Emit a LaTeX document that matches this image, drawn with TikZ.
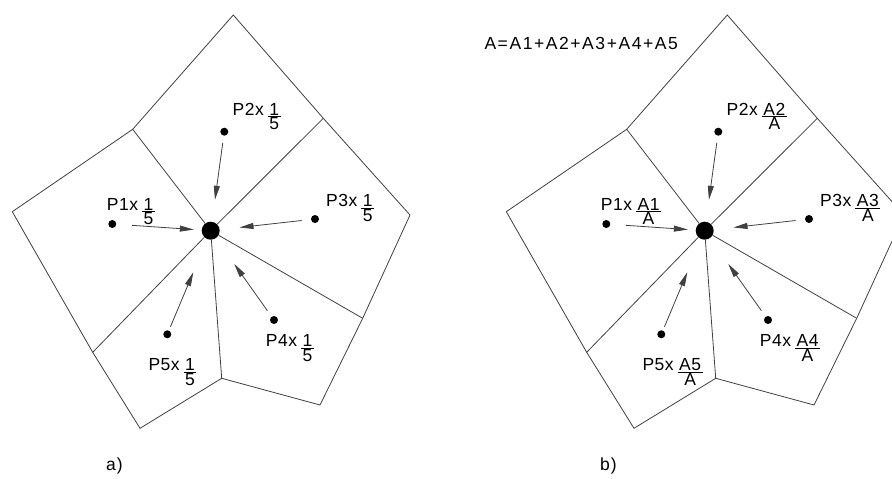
\documentclass[tikz,border=0pt]{standalone}
\usepackage{fontspec}
\setmainfont[LetterSpace=3]{Liberation Sans}
\usetikzlibrary{arrows.meta}

% stacked fraction, numerator sits on the baseline
\newcommand{\frc}[2]{\kern4pt\vtop{\offinterlineskip\halign{\hfil\kern1.5pt##\kern1.5pt\hfil\cr#1\cr\noalign{\kern1pt\hrule height0.6pt\kern1.2pt}#2\cr}}}

\begin{document}
\begin{tikzpicture}[x=1pt,y=-1pt,font=\fontsize{17.5}{20}\selectfont,
  edge/.style={line width=0.8pt,black!75},
  dot/.style={circle,fill=black,inner sep=0pt,minimum size=8pt},
  hub/.style={circle,fill=black,inner sep=0pt,minimum size=18pt},
  push/.style={line width=0.8pt,black!75,-{Triangle[length=14pt,width=6pt]}},
  lbl/.style={anchor=base west,inner sep=0pt}]
\useasboundingbox (0,0) rectangle (892,479);
\clip (0,0) rectangle (892,479);

% --- the two subdivided pentagons ---
\foreach \f/\dx in {a/0,b/494}{
\begin{scope}[xshift=\dx pt]
  \coordinate (\f-t)   at (233.3,15);
  \coordinate (\f-mur) at (323.3,118.3);
  \coordinate (\f-r)   at (410,215);
  \coordinate (\f-mlr) at (362.7,318.3);
  \coordinate (\f-br)  at (320,405);
  \coordinate (\f-mb)  at (221.7,378.3);
  \coordinate (\f-bl)  at (140,428.3);
  \coordinate (\f-mll) at (92.7,352.3);
  \coordinate (\f-l)   at (12.3,211.7);
  \coordinate (\f-mul) at (132.7,129.3);
  \draw[edge] (\f-t) -- (\f-mur) -- (\f-r) -- (\f-mlr) -- (\f-br) -- (\f-mb)
    -- (\f-bl) -- (\f-mll) -- (\f-l) -- (\f-mul) -- cycle;

  \node[hub] (\f-c) at (210.7,230.7) {};
  \foreach \m in {mul,mur,mlr,mb,mll}
    \draw[edge] (\f-c) -- (\f-\m);

  % centroids of the five parts
  \node[dot] (\f-p1) at (112.3,224) {};
  \node[dot] (\f-p2) at (224.3,131.7) {};
  \node[dot] (\f-p3) at (315,219) {};
  \node[dot] (\f-p4) at (274,320) {};
  \node[dot] (\f-p5) at (167.3,334.3) {};

  \draw[push,shorten <=15.5pt,shorten >=7.7pt] (\f-p1) -- (\f-c);
  \draw[push,shorten <=7pt,shorten >=22pt] (\f-p2) -- (\f-c);
  \draw[push,shorten <=9.3pt,shorten >=19.8pt] (\f-p3) -- (\f-c);
  \draw[push,shorten <=7.2pt,shorten >=31.5pt] (\f-p4) -- (\f-c);
  \draw[push,shorten <=4pt,shorten >=35.8pt] (\f-p5) -- (\f-c);
\end{scope}
}

% --- a) equal weights ---
\node[lbl] (a-l1) at (106.7,210) {P1x\frc{1}{5}};
\node[lbl] (a-l2) at (232.5,115) {P2x\frc{1}{5}};
\node[lbl] (a-l3) at (326,206.7) {P3x\frc{1}{5}};
\node[lbl] (a-l4) at (265.7,346.7) {P4x\frc{1}{5}};
\node[lbl] (a-l5) at (148.3,370.7) {P5x\frc{1}{5}};
\node[lbl] (a-cap) at (106,470) {a\kern1pt)};

% --- b) area weights ---
\node[lbl] (b-sum) at (484.3,49.3) {\addfontfeatures{LetterSpace=9}A=A1+A2+A3+A4+A5};
\node[lbl] (b-l1) at (600.7,210) {P1x\frc{A1}{A}};
\node[lbl] (b-l2) at (726.5,115) {P2x\frc{A2}{A}};
\node[lbl] (b-l3) at (820,206.7) {P3x\frc{A3}{A}};
\node[lbl] (b-l4) at (759.7,346.7) {P4x\frc{A4}{A}};
\node[lbl] (b-l5) at (642.3,370.7) {P5x\frc{A5}{A}};
\node[lbl] (b-cap) at (600,470) {b\kern1pt)};
\end{tikzpicture}
\end{document}
